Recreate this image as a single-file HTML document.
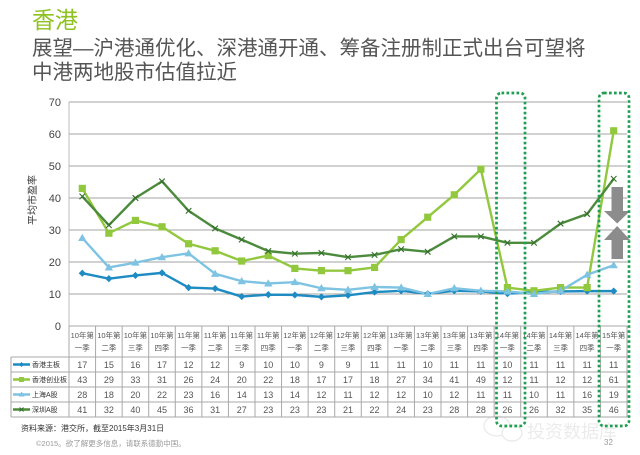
<!DOCTYPE html>
<html><head><meta charset="utf-8">
<style>
html,body{margin:0;padding:0;background:#fff;}
body{width:640px;height:455px;overflow:hidden;}
svg{display:block;font-family:"Liberation Sans","Noto Sans CJK SC",sans-serif;}
</style></head>
<body>
<svg width="640" height="455" viewBox="0 0 640 455" xmlns="http://www.w3.org/2000/svg">
<defs>
  <polygon id="dia" points="0,-3.6 3.6,0 0,3.6 -3.6,0" fill="#1E8BC3"/>
  <rect id="sq" x="-3.6" y="-3.6" width="7.2" height="7.2" fill="#92C83E"/>
  <polygon id="tri" points="0,-4.2 4.2,3 -4.2,3" fill="#7FC3E3"/>
  <path id="xm" d="M-2.8,-2.8 L2.8,2.8 M-2.8,2.8 L2.8,-2.8" stroke="#35702C" stroke-width="1.1" fill="none"/>
</defs>

<!-- Titles -->
<text x="32" y="28" font-size="23" fill="#8DC21F">香港</text>
<text x="32" y="55" font-size="20.5" fill="#555">展望—沪港通优化、深港通开通、筹备注册制正式出台可望将</text>
<text x="32" y="79" font-size="20.5" fill="#555">中港两地股市估值拉近</text>

<!-- gridlines -->
<g stroke="#a3a3a3" stroke-width="1">
  <line x1="69" y1="102" x2="627" y2="102"/>
  <line x1="69" y1="134" x2="627" y2="134"/>
  <line x1="69" y1="166" x2="627" y2="166"/>
  <line x1="69" y1="198" x2="627" y2="198"/>
  <line x1="69" y1="230" x2="627" y2="230"/>
  <line x1="69" y1="262" x2="627" y2="262"/>
  <line x1="69" y1="294" x2="627" y2="294"/>
</g>
<line x1="69" y1="102" x2="69" y2="326" stroke="#bdbdbd" stroke-width="1"/>

<!-- y tick labels -->
<g font-size="11" fill="#444" text-anchor="end">
  <text x="61" y="106">70</text>
  <text x="61" y="138">60</text>
  <text x="61" y="170">50</text>
  <text x="61" y="202">40</text>
  <text x="61" y="234">30</text>
  <text x="61" y="266">20</text>
  <text x="61" y="298">10</text>
  <text x="61" y="330">0</text>
</g>
<text transform="translate(36,200) rotate(-90)" font-size="10" fill="#333" text-anchor="middle">平均市盈率</text>

<!-- series lines -->
<g fill="none" stroke-width="2.4" stroke-linejoin="round">
<polyline stroke="#1E8BC3" points="82.29,273.2 108.86,278.64 135.43,275.44 162,272.88 188.57,287.6 215.14,288.56 241.71,296.56 268.29,294.64 294.86,294.96 321.43,296.88 348,295.28 374.57,292.08 401.14,290.8 427.71,293.68 454.29,290.8 480.86,291.44 507.43,293.68 534,292.08 560.57,291.44 587.14,291.12 613.71,291.12"/>
<polyline stroke="#92C83E" points="82.29,188.4 108.86,233.2 135.43,220.4 162,226.8 188.57,243.76 215.14,250.8 241.71,261.04 268.29,255.6 294.86,268.4 321.43,270.64 348,270.64 374.57,267.44 401.14,239.6 427.71,217.2 454.29,194.8 480.86,169.2 507.43,287.6 534,290.8 560.57,287.6 587.14,287.6 613.71,130.8"/>
<polyline stroke="#7FC3E3" points="82.29,238 108.86,267.44 135.43,262.64 162,257.2 188.57,253.36 215.14,273.84 241.71,281.2 268.29,283.44 294.86,282.16 321.43,288.24 348,289.84 374.57,286.96 401.14,287.6 427.71,294 454.29,288.24 480.86,290.8 507.43,291.44 534,294 560.57,290.8 587.14,274.8 613.71,265.2"/>
<polyline stroke="#4B8B3B" points="82.29,196.4 108.86,225.2 135.43,198 162,181.36 188.57,210.8 215.14,228.4 241.71,239.6 268.29,251.12 294.86,253.68 321.43,252.96 348,257.2 374.57,254.96 401.14,249.2 427.71,251.76 454.29,236.4 480.86,236.4 507.43,242.8 534,242.8 560.57,223.6 587.14,214 613.71,178.8"/>
</g>

<!-- markers -->
<g>
<use href="#dia" x="82.29" y="273.2"/><use href="#dia" x="108.86" y="278.64"/><use href="#dia" x="135.43" y="275.44"/><use href="#dia" x="162" y="272.88"/><use href="#dia" x="188.57" y="287.6"/><use href="#dia" x="215.14" y="288.56"/><use href="#dia" x="241.71" y="296.56"/><use href="#dia" x="268.29" y="294.64"/><use href="#dia" x="294.86" y="294.96"/><use href="#dia" x="321.43" y="296.88"/><use href="#dia" x="348" y="295.28"/><use href="#dia" x="374.57" y="292.08"/><use href="#dia" x="401.14" y="290.8"/><use href="#dia" x="427.71" y="293.68"/><use href="#dia" x="454.29" y="290.8"/><use href="#dia" x="480.86" y="291.44"/><use href="#dia" x="507.43" y="293.68"/><use href="#dia" x="534" y="292.08"/><use href="#dia" x="560.57" y="291.44"/><use href="#dia" x="587.14" y="291.12"/><use href="#dia" x="613.71" y="291.12"/>
</g>
<g>
<use href="#sq" x="82.29" y="188.4"/><use href="#sq" x="108.86" y="233.2"/><use href="#sq" x="135.43" y="220.4"/><use href="#sq" x="162" y="226.8"/><use href="#sq" x="188.57" y="243.76"/><use href="#sq" x="215.14" y="250.8"/><use href="#sq" x="241.71" y="261.04"/><use href="#sq" x="268.29" y="255.6"/><use href="#sq" x="294.86" y="268.4"/><use href="#sq" x="321.43" y="270.64"/><use href="#sq" x="348" y="270.64"/><use href="#sq" x="374.57" y="267.44"/><use href="#sq" x="401.14" y="239.6"/><use href="#sq" x="427.71" y="217.2"/><use href="#sq" x="454.29" y="194.8"/><use href="#sq" x="480.86" y="169.2"/><use href="#sq" x="507.43" y="287.6"/><use href="#sq" x="534" y="290.8"/><use href="#sq" x="560.57" y="287.6"/><use href="#sq" x="587.14" y="287.6"/><use href="#sq" x="613.71" y="130.8"/>
</g>
<g>
<use href="#tri" x="82.29" y="238"/><use href="#tri" x="108.86" y="267.44"/><use href="#tri" x="135.43" y="262.64"/><use href="#tri" x="162" y="257.2"/><use href="#tri" x="188.57" y="253.36"/><use href="#tri" x="215.14" y="273.84"/><use href="#tri" x="241.71" y="281.2"/><use href="#tri" x="268.29" y="283.44"/><use href="#tri" x="294.86" y="282.16"/><use href="#tri" x="321.43" y="288.24"/><use href="#tri" x="348" y="289.84"/><use href="#tri" x="374.57" y="286.96"/><use href="#tri" x="401.14" y="287.6"/><use href="#tri" x="427.71" y="294"/><use href="#tri" x="454.29" y="288.24"/><use href="#tri" x="480.86" y="290.8"/><use href="#tri" x="507.43" y="291.44"/><use href="#tri" x="534" y="294"/><use href="#tri" x="560.57" y="290.8"/><use href="#tri" x="587.14" y="274.8"/><use href="#tri" x="613.71" y="265.2"/>
</g>
<g>
<use href="#xm" x="82.29" y="196.4"/><use href="#xm" x="108.86" y="225.2"/><use href="#xm" x="135.43" y="198"/><use href="#xm" x="162" y="181.36"/><use href="#xm" x="188.57" y="210.8"/><use href="#xm" x="215.14" y="228.4"/><use href="#xm" x="241.71" y="239.6"/><use href="#xm" x="268.29" y="251.12"/><use href="#xm" x="294.86" y="253.68"/><use href="#xm" x="321.43" y="252.96"/><use href="#xm" x="348" y="257.2"/><use href="#xm" x="374.57" y="254.96"/><use href="#xm" x="401.14" y="249.2"/><use href="#xm" x="427.71" y="251.76"/><use href="#xm" x="454.29" y="236.4"/><use href="#xm" x="480.86" y="236.4"/><use href="#xm" x="507.43" y="242.8"/><use href="#xm" x="534" y="242.8"/><use href="#xm" x="560.57" y="223.6"/><use href="#xm" x="587.14" y="214"/><use href="#xm" x="613.71" y="178.8"/>
</g>

<!-- arrows -->
<g fill="#8c8c8c">
  <rect x="611.5" y="187" width="11.5" height="25"/>
  <polygon points="604,211 630,211 617.2,223.5"/>
  <polygon points="604,240 630,240 617.2,226"/>
  <rect x="611.5" y="239.5" width="11.5" height="19.5"/>
</g>

<!-- table grid -->
<g stroke="#a8a8a8" stroke-width="1" fill="none">
  <line x1="69" y1="326" x2="627" y2="326"/>
  <line x1="11" y1="357" x2="627" y2="357"/>
  <line x1="11" y1="372" x2="627" y2="372"/>
  <line x1="11" y1="387" x2="627" y2="387"/>
  <line x1="11" y1="402" x2="627" y2="402"/>
  <line x1="11" y1="417" x2="627" y2="417"/>
  <line x1="11" y1="357" x2="11" y2="417"/>
  <line x1="69" y1="326" x2="69" y2="417"/>
  <line x1="95.57" y1="326" x2="95.57" y2="417"/>
  <line x1="122.14" y1="326" x2="122.14" y2="417"/>
  <line x1="148.71" y1="326" x2="148.71" y2="417"/>
  <line x1="175.29" y1="326" x2="175.29" y2="417"/>
  <line x1="201.86" y1="326" x2="201.86" y2="417"/>
  <line x1="228.43" y1="326" x2="228.43" y2="417"/>
  <line x1="255" y1="326" x2="255" y2="417"/>
  <line x1="281.57" y1="326" x2="281.57" y2="417"/>
  <line x1="308.14" y1="326" x2="308.14" y2="417"/>
  <line x1="334.71" y1="326" x2="334.71" y2="417"/>
  <line x1="361.29" y1="326" x2="361.29" y2="417"/>
  <line x1="387.86" y1="326" x2="387.86" y2="417"/>
  <line x1="414.43" y1="326" x2="414.43" y2="417"/>
  <line x1="441" y1="326" x2="441" y2="417"/>
  <line x1="467.57" y1="326" x2="467.57" y2="417"/>
  <line x1="494.14" y1="326" x2="494.14" y2="417"/>
  <line x1="520.71" y1="326" x2="520.71" y2="417"/>
  <line x1="547.29" y1="326" x2="547.29" y2="417"/>
  <line x1="573.86" y1="326" x2="573.86" y2="417"/>
  <line x1="600.43" y1="326" x2="600.43" y2="417"/>
  <line x1="627" y1="326" x2="627" y2="417"/>
</g>

<!-- header labels -->
<g font-size="7.5" fill="#555" text-anchor="middle">
<text y="338"><tspan x="82.29">10年第</tspan><tspan x="108.86">10年第</tspan><tspan x="135.43">10年第</tspan><tspan x="162">10年第</tspan><tspan x="188.57">11年第</tspan><tspan x="215.14">11年第</tspan><tspan x="241.71">11年第</tspan><tspan x="268.29">11年第</tspan><tspan x="294.86">12年第</tspan><tspan x="321.43">12年第</tspan><tspan x="348">12年第</tspan><tspan x="374.57">12年第</tspan><tspan x="401.14">13年第</tspan><tspan x="427.71">13年第</tspan><tspan x="454.29">13年第</tspan><tspan x="480.86">13年第</tspan><tspan x="507.43">14年第</tspan><tspan x="534">14年第</tspan><tspan x="560.57">14年第</tspan><tspan x="587.14">14年第</tspan><tspan x="613.71">15年第</tspan></text>
<text y="350.5"><tspan x="82.29">一季</tspan><tspan x="108.86">二季</tspan><tspan x="135.43">三季</tspan><tspan x="162">四季</tspan><tspan x="188.57">一季</tspan><tspan x="215.14">二季</tspan><tspan x="241.71">三季</tspan><tspan x="268.29">四季</tspan><tspan x="294.86">一季</tspan><tspan x="321.43">二季</tspan><tspan x="348">三季</tspan><tspan x="374.57">四季</tspan><tspan x="401.14">一季</tspan><tspan x="427.71">二季</tspan><tspan x="454.29">三季</tspan><tspan x="480.86">四季</tspan><tspan x="507.43">一季</tspan><tspan x="534">二季</tspan><tspan x="560.57">三季</tspan><tspan x="587.14">四季</tspan><tspan x="613.71">一季</tspan></text>
</g>

<!-- values -->
<g font-size="9" fill="#555" text-anchor="middle">
<text y="367.8"><tspan x="82.29">17</tspan><tspan x="108.86">15</tspan><tspan x="135.43">16</tspan><tspan x="162">17</tspan><tspan x="188.57">12</tspan><tspan x="215.14">12</tspan><tspan x="241.71">9</tspan><tspan x="268.29">10</tspan><tspan x="294.86">10</tspan><tspan x="321.43">9</tspan><tspan x="348">9</tspan><tspan x="374.57">11</tspan><tspan x="401.14">11</tspan><tspan x="427.71">10</tspan><tspan x="454.29">11</tspan><tspan x="480.86">11</tspan><tspan x="507.43">10</tspan><tspan x="534">11</tspan><tspan x="560.57">11</tspan><tspan x="587.14">11</tspan><tspan x="613.71">11</tspan></text>
<text y="382.8"><tspan x="82.29">43</tspan><tspan x="108.86">29</tspan><tspan x="135.43">33</tspan><tspan x="162">31</tspan><tspan x="188.57">26</tspan><tspan x="215.14">24</tspan><tspan x="241.71">20</tspan><tspan x="268.29">22</tspan><tspan x="294.86">18</tspan><tspan x="321.43">17</tspan><tspan x="348">17</tspan><tspan x="374.57">18</tspan><tspan x="401.14">27</tspan><tspan x="427.71">34</tspan><tspan x="454.29">41</tspan><tspan x="480.86">49</tspan><tspan x="507.43">12</tspan><tspan x="534">11</tspan><tspan x="560.57">12</tspan><tspan x="587.14">12</tspan><tspan x="613.71">61</tspan></text>
<text y="397.8"><tspan x="82.29">28</tspan><tspan x="108.86">18</tspan><tspan x="135.43">20</tspan><tspan x="162">22</tspan><tspan x="188.57">23</tspan><tspan x="215.14">16</tspan><tspan x="241.71">14</tspan><tspan x="268.29">13</tspan><tspan x="294.86">14</tspan><tspan x="321.43">12</tspan><tspan x="348">11</tspan><tspan x="374.57">12</tspan><tspan x="401.14">12</tspan><tspan x="427.71">10</tspan><tspan x="454.29">12</tspan><tspan x="480.86">11</tspan><tspan x="507.43">11</tspan><tspan x="534">10</tspan><tspan x="560.57">11</tspan><tspan x="587.14">16</tspan><tspan x="613.71">19</tspan></text>
<text y="412.8"><tspan x="82.29">41</tspan><tspan x="108.86">32</tspan><tspan x="135.43">40</tspan><tspan x="162">45</tspan><tspan x="188.57">36</tspan><tspan x="215.14">31</tspan><tspan x="241.71">27</tspan><tspan x="268.29">23</tspan><tspan x="294.86">23</tspan><tspan x="321.43">23</tspan><tspan x="348">21</tspan><tspan x="374.57">22</tspan><tspan x="401.14">24</tspan><tspan x="427.71">23</tspan><tspan x="454.29">28</tspan><tspan x="480.86">28</tspan><tspan x="507.43">26</tspan><tspan x="534">26</tspan><tspan x="560.57">32</tspan><tspan x="587.14">35</tspan><tspan x="613.71">46</tspan></text>
</g>

<!-- legend column -->
<g stroke-width="2.4">
  <line x1="13" y1="364.5" x2="30" y2="364.5" stroke="#1E8BC3"/>
  <line x1="13" y1="379.5" x2="30" y2="379.5" stroke="#92C83E"/>
  <line x1="13" y1="394.5" x2="30" y2="394.5" stroke="#7FC3E3"/>
  <line x1="13" y1="409.5" x2="30" y2="409.5" stroke="#4B8B3B"/>
</g>
<polygon points="21.5,362 24,364.5 21.5,367 19,364.5" fill="#1E8BC3"/>
<rect x="19" y="377" width="5" height="5" fill="#92C83E"/>
<polygon points="21.5,391.5 24.5,396.5 18.5,396.5" fill="#7FC3E3"/>
<path d="M19.5,407.5 L23.5,411.5 M19.5,411.5 L23.5,407.5" stroke="#35702C" stroke-width="1"/>
<g font-size="7" fill="#333">
  <text x="32" y="367">香港主板</text>
  <text x="32" y="382">香港创业板</text>
  <text x="32" y="397">上海A股</text>
  <text x="32" y="412">深圳A股</text>
</g>

<!-- watermark -->
<g opacity="0.4">
  <ellipse cx="497" cy="426" rx="13" ry="10" fill="none" stroke="#c8c8c8" stroke-width="1.2"/>
  <ellipse cx="512" cy="433" rx="10" ry="8" fill="#fff" stroke="#c8c8c8" stroke-width="1.2"/>
  <text x="527" y="438" font-size="18" fill="#cfcfcf">投资数据库</text>
</g>

<!-- dotted highlight boxes -->
<g fill="none" stroke="#1E9E50" stroke-width="2.7" stroke-dasharray="2.7 2.3">
  <rect x="496.5" y="93" width="28.5" height="333" rx="5"/>
  <rect x="599" y="93" width="30" height="333" rx="5"/>
</g>

<!-- footer -->
<text x="21" y="431" font-size="8" fill="#333">资料来源：港交所，截至2015年3月31日</text>
<text x="36" y="446" font-size="7.5" fill="#9a9a9a">©2015。欲了解更多信息，请联系德勤中国。</text>
<text x="604" y="445" font-size="8" fill="#9a9a9a">32</text>
</svg>
</body></html>
